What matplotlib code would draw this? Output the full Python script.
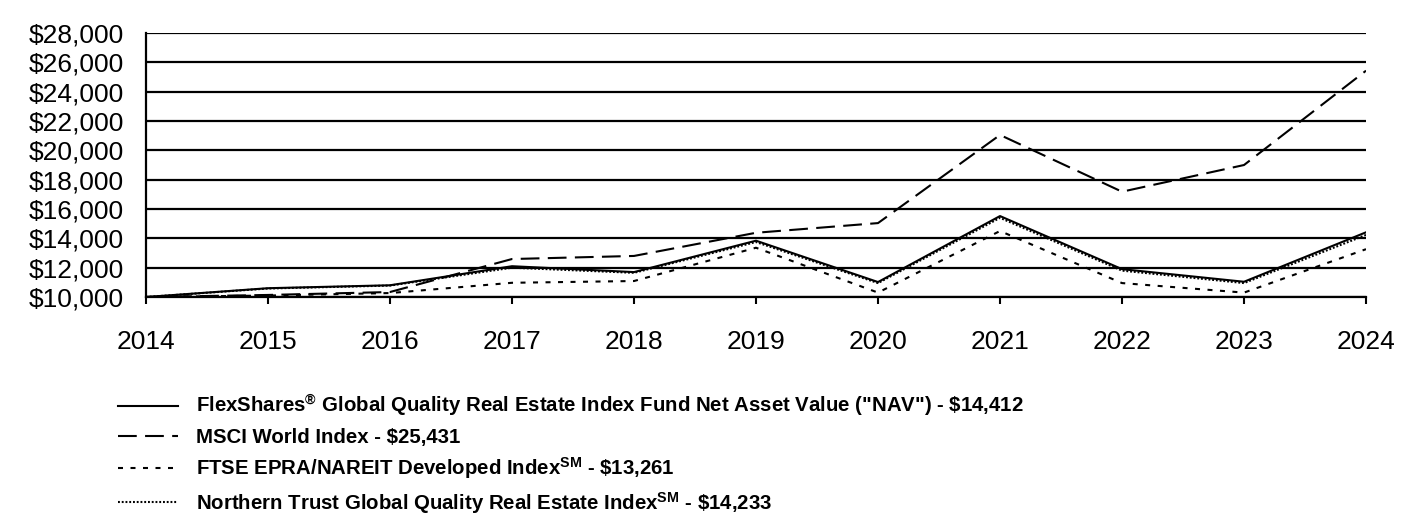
# Growth of a $10,000 investment: fund vs. three indices, 2014-2024.

import matplotlib
matplotlib.use("Agg")
import matplotlib.pyplot as plt
from matplotlib.ticker import FuncFormatter, MultipleLocator

plt.rcParams["font.family"] = ["Liberation Sans", "DejaVu Sans"]
plt.rcParams["mathtext.default"] = "regular"

years = [2014, 2015, 2016, 2017, 2018, 2019, 2020, 2021, 2022, 2023, 2024]
nav = [10000, 10600, 10800, 12100, 11700, 13840, 11020, 15520, 11900, 11040, 14412]
msci = [10000, 10140, 10340, 12590, 12800, 14380, 15040, 21050, 17180, 19000, 25431]
ftse = [10000, 10100, 10270, 10970, 11090, 13360, 10300, 14500, 10950, 10300, 13261]
ntgq = [10000, 10580, 10780, 12000, 11650, 13750, 10950, 15400, 11800, 10950, 14233]

labels = [
    r'FlexShares$^{\circledR}$ Global Quality Real Estate Index Fund Net Asset Value ("NAV") - \$14,412',
    "MSCI World Index - $25,431",
    r"FTSE EPRA/NAREIT Developed Index$^{SM}$ - \$13,261",
    r"Northern Trust Global Quality Real Estate Index$^{SM}$ - \$14,233",
]


def main():
    fig = plt.figure(figsize=(14.16, 5.16), dpi=100)
    ax = fig.add_axes([0.1031, 0.4244, 0.8616, 0.5116])

    lw = 1.5
    l1, = ax.plot(years, nav, color="black", lw=lw)
    l2, = ax.plot(years, msci, color="black", lw=lw, dashes=(9, 4))
    l3, = ax.plot(years, ftse, color="black", lw=lw, dashes=(2.4, 3.6))
    l4, = ax.plot(years, ntgq, color="black", lw=lw, dashes=(0.9, 0.9))

    ax.set_xlim(2014, 2024)
    ax.set_ylim(10000, 28000)
    ax.yaxis.set_major_locator(MultipleLocator(2000))
    ax.yaxis.set_major_formatter(FuncFormatter(lambda v, p: f"${v:,.0f}"))
    ax.set_xticks(years)

    ax.grid(axis="y", color="black", lw=1.6)
    ax.set_axisbelow(True)
    for side in ["top", "right"]:
        ax.spines[side].set_visible(False)
    ax.spines["left"].set_linewidth(1.6)
    ax.spines["bottom"].set_linewidth(1.6)

    ax.tick_params(axis="y", length=0, pad=16, labelsize=19)
    ax.tick_params(axis="x", length=5, width=1.5, direction="out", pad=19, labelsize=19)

    fig.legend(
        [l1, l2, l3, l4], labels,
        loc="upper left", bbox_to_anchor=(118 / 1416, 1 - 393 / 516),
        frameon=False, borderpad=0, borderaxespad=0,
        handlelength=2.95, handletextpad=0.85, labelspacing=0.42,
        prop={"weight": "bold", "size": 14.7},
    )

    fig.savefig("out.png", dpi=100)


if __name__ == "__main__":
    main()
